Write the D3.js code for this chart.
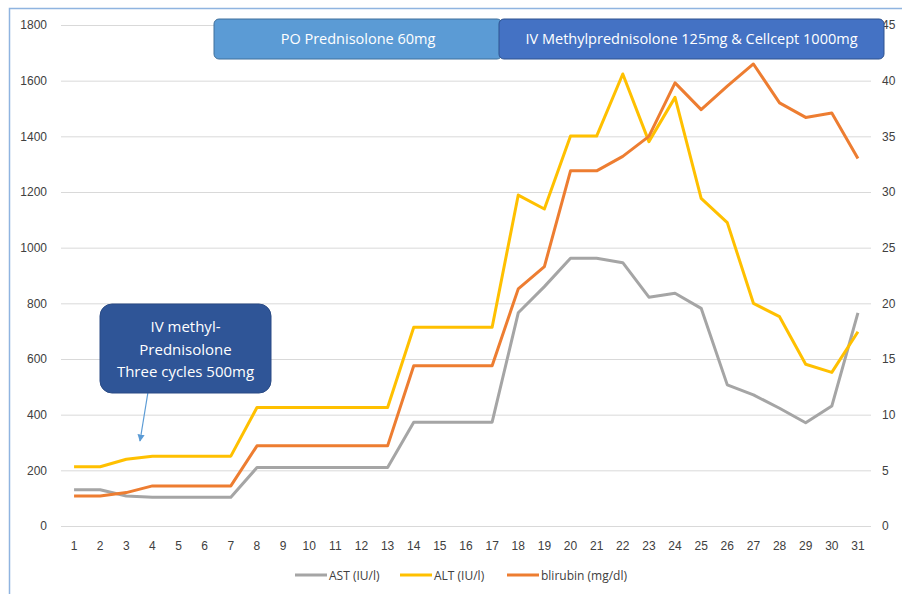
<!DOCTYPE html>
<html>
<head>
<meta charset="utf-8">
<style>
  body { margin: 0; background: #fff; }
  svg { font-family: "Open Sans", "Noto Sans", sans-serif; }
  .tick text { fill: #404040; font-size: 12px; }
</style>
<script src="https://d3js.org/d3.v7.min.js"></script>
</head>
<body>
<div id="chart"></div>
<script>
// data
var days = d3.range(1, 32);
var ast = [130, 130, 108, 103, 103, 103, 103, 210, 210, 210, 210, 210, 210, 373, 373, 373, 373,
           766, 860, 962, 962, 946, 822, 836, 782, 507, 471, 423, 371, 431, 766];
var alt = [213, 213, 240, 251, 251, 251, 251, 426, 426, 426, 426, 426, 426, 714, 714, 714, 714,
           1189, 1139, 1401, 1401, 1624, 1381, 1540, 1177, 1090, 800, 752, 581, 552, 698];
var bili = [2.7, 2.7, 3.0, 3.6, 3.6, 3.6, 3.6, 7.2, 7.2, 7.2, 7.2, 7.2, 7.2, 14.4, 14.4, 14.4, 14.4,
            21.3, 23.3, 31.9, 31.9, 33.2, 35.0, 39.8, 37.4, 39.5, 41.5, 38.0, 36.7, 37.1, 33.0];
var leftTicks = d3.range(0, 1801, 200);
var rightTicks = d3.range(0, 46, 5);
var seriesNames = ["AST (IU/l)", "ALT (IU/l)", "blirubin (mg/dl)"];
var seriesColors = ["#A5A5A5", "#FFC000", "#ED7D31"];

var W = 902, H = 594;
var plotL = 61, plotR = 871, plotT = 25, plotB = 526;

var svg = d3.select("#chart").append("svg")
  .attr("width", W).attr("height", H);

// frame
svg.append("path")
  .attr("d", "M9.5," + H + "V8.5H" + W)
  .attr("fill", "none").attr("stroke", "#8FB4E0").attr("stroke-width", 1.5);

var x = d3.scaleBand().domain(days).range([plotL, plotR]);
var yL = d3.scaleLinear().domain([0, 1800]).range([plotB, plotT]);
var yR = d3.scaleLinear().domain([0, 45]).range([plotB, plotT]);

// grid
svg.append("g").selectAll("line").data(leftTicks).join("line")
  .attr("x1", plotL).attr("x2", plotR)
  .attr("y1", function(d) { return yL(d) + 0.5; })
  .attr("y2", function(d) { return yL(d) + 0.5; })
  .attr("stroke", "#D9D9D9").attr("stroke-width", 1);

// axes
var gl = svg.append("g").attr("transform", "translate(" + (plotL - 14) + ",0)")
  .call(d3.axisLeft(yL).tickValues(leftTicks).tickFormat(d3.format("d")).tickSize(0).tickPadding(0));
var gr = svg.append("g").attr("transform", "translate(" + (plotR + 11) + ",0)")
  .call(d3.axisRight(yR).tickValues(rightTicks).tickFormat(d3.format("d")).tickSize(0).tickPadding(0));
var gx = svg.append("g").attr("transform", "translate(0," + (plotB + 8) + ")")
  .call(d3.axisBottom(x).tickSize(0).tickPadding(7));
[gl, gr, gx].forEach(function(g) { g.select(".domain").remove(); });

// lines
var lineL = d3.line().x(function(d, i) { return x(days[i]) + x.bandwidth() / 2; })
  .y(function(d) { return yL(d); });
var lineR = d3.line().x(function(d, i) { return x(days[i]) + x.bandwidth() / 2; })
  .y(function(d) { return yR(d); });

[[ast, lineL], [alt, lineL], [bili, lineR]].forEach(function(s, i) {
  svg.append("path").datum(s[0])
    .attr("d", s[1])
    .attr("fill", "none")
    .attr("stroke", seriesColors[i])
    .attr("stroke-width", 3)
    .attr("stroke-linejoin", "round");
});

// treatment boxes at top
var boxes = [
  {x0: 214, x1: 502, fill: "#5B9BD5", stroke: "#41719C", text: "PO Prednisolone 60mg"},
  {x0: 499, x1: 884, fill: "#4472C4", stroke: "#2F528F", text: "IV Methylprednisolone 125mg & Cellcept 1000mg"}
];
boxes.forEach(function(b) {
  svg.append("rect").attr("x", b.x0).attr("y", 19).attr("width", b.x1 - b.x0).attr("height", 40)
    .attr("rx", 5).attr("fill", b.fill).attr("stroke", b.stroke).attr("stroke-width", 1);
  svg.append("text").attr("x", (b.x0 + b.x1) / 2).attr("y", 44)
    .attr("text-anchor", "middle").attr("fill", "#fff").attr("font-size", 14.5)
    .text(b.text);
});

// IV methyl-Prednisolone callout
svg.append("defs").append("marker").attr("id", "arr")
  .attr("viewBox", "0 0 10 10").attr("refX", 9).attr("refY", 5)
  .attr("markerWidth", 6).attr("markerHeight", 6).attr("orient", "auto")
  .append("path").attr("d", "M0,0L10,5L0,10Z").attr("fill", "#5B9BD5");
svg.append("line").attr("x1", 148).attr("y1", 392).attr("x2", 140).attr("y2", 441)
  .attr("stroke", "#5B9BD5").attr("stroke-width", 1.2).attr("marker-end", "url(#arr)");
svg.append("rect").attr("x", 100).attr("y", 304).attr("width", 171).attr("height", 89)
  .attr("rx", 12).attr("fill", "#2F5597").attr("stroke", "#2A4B85");
["IV methyl-", "Prednisolone", "Three cycles 500mg"].forEach(function(t, i) {
  svg.append("text").attr("x", 185.5).attr("y", 332 + i * 22.5)
    .attr("text-anchor", "middle").attr("fill", "#fff").attr("font-size", 15).text(t);
});

// legend
var legX = [295, 400, 507];
seriesNames.forEach(function(n, i) {
  svg.append("line").attr("x1", legX[i]).attr("x2", legX[i] + 32)
    .attr("y1", 575).attr("y2", 575)
    .attr("stroke", seriesColors[i]).attr("stroke-width", 3);
  svg.append("text").attr("x", legX[i] + 34).attr("y", 579.5)
    .attr("fill", "#404040").attr("font-size", 12).text(n);
});
</script>
</body>
</html>
